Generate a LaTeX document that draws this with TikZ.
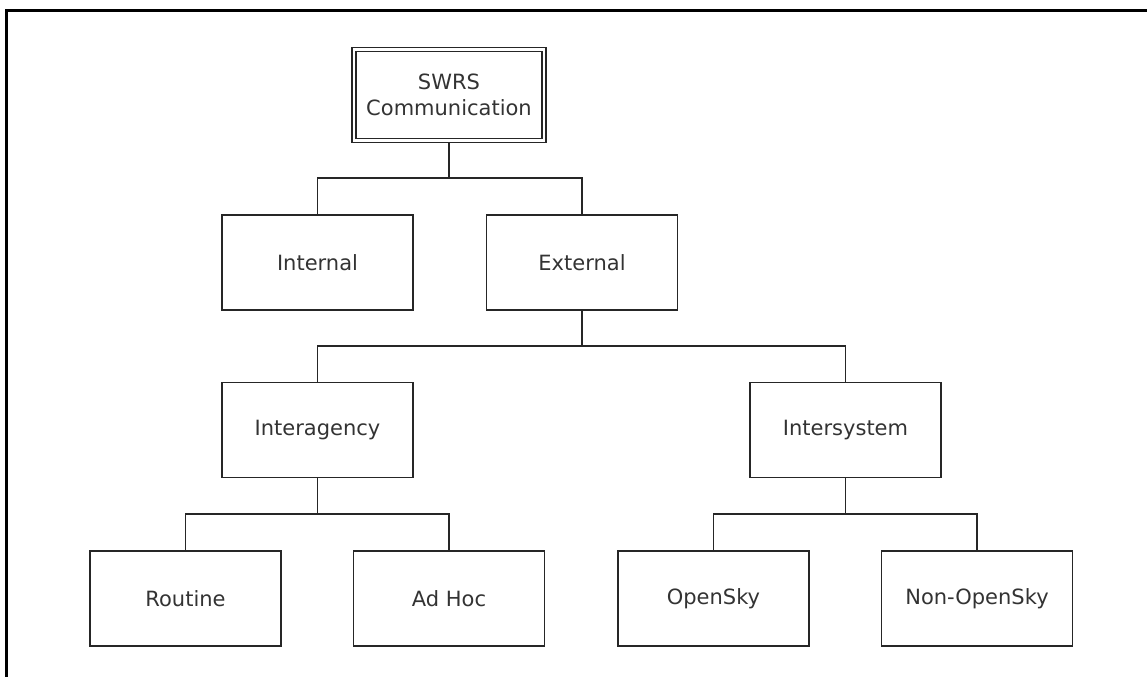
\documentclass[tikz,border=0pt]{standalone}
\usepackage{fontspec}
\setmainfont{DejaVu Sans}
\usetikzlibrary{calc,backgrounds}
\tikzset{
  unit/.style={draw=black!85, line width=0.85pt, minimum width=95.5pt,
    minimum height=47.5pt, inner sep=0pt, align=center, text=black!80,
    font=\fontsize{10.5}{13}\selectfont},
  topunit/.style={unit, double, line width=0.75pt, double distance=1.25pt,
    minimum width=95pt, minimum height=45.5pt},
  link/.style={draw=black!85, line width=0.85pt}
}

\begin{document}
\begin{tikzpicture}[x=0.5pt,y=-0.5pt]
   \useasboundingbox (0,0) rectangle (1147,677);
   % frame
   \draw[line width=1.5pt] (1147,10) -- (6,10) -- (6,677);
   % units
   \node[topunit] (swrs) at (449,95) {SWRS\\Communication};
   \node[unit] (internal) at (317.5,262.5) {Internal};
   \node[unit] (external) at (582,262.5) {External};
   \node[unit] (interagency) at (317.5,430) {Interagency};
   \node[unit] (intersystem) at (845.5,430) {Intersystem};
   \node[unit] (routine) at (185.5,598.5) {Routine};
   \node[unit] (adhoc) at (449,598.5) {Ad Hoc};
   \node[unit] (opensky) at (713.5,598.5) {OpenSky};
   \node[unit] (nonopensky) at (977,598.5) {Non-OpenSky};
   % links
   \begin{scope}[on background layer]
   \foreach \p/\a/\b in {swrs/internal/external, external/interagency/intersystem,
       interagency/routine/adhoc, intersystem/opensky/nonopensky} {%
     \coordinate (bus-\p) at ($(\p.south)!.5!(\p.south |- \a.north)$);
     \draw[link] (\p.south) -- (bus-\p);
     \draw[link] (\a.north) |- (bus-\p) -| (\b.north);
   }
   \end{scope}
\end{tikzpicture}
\end{document}
